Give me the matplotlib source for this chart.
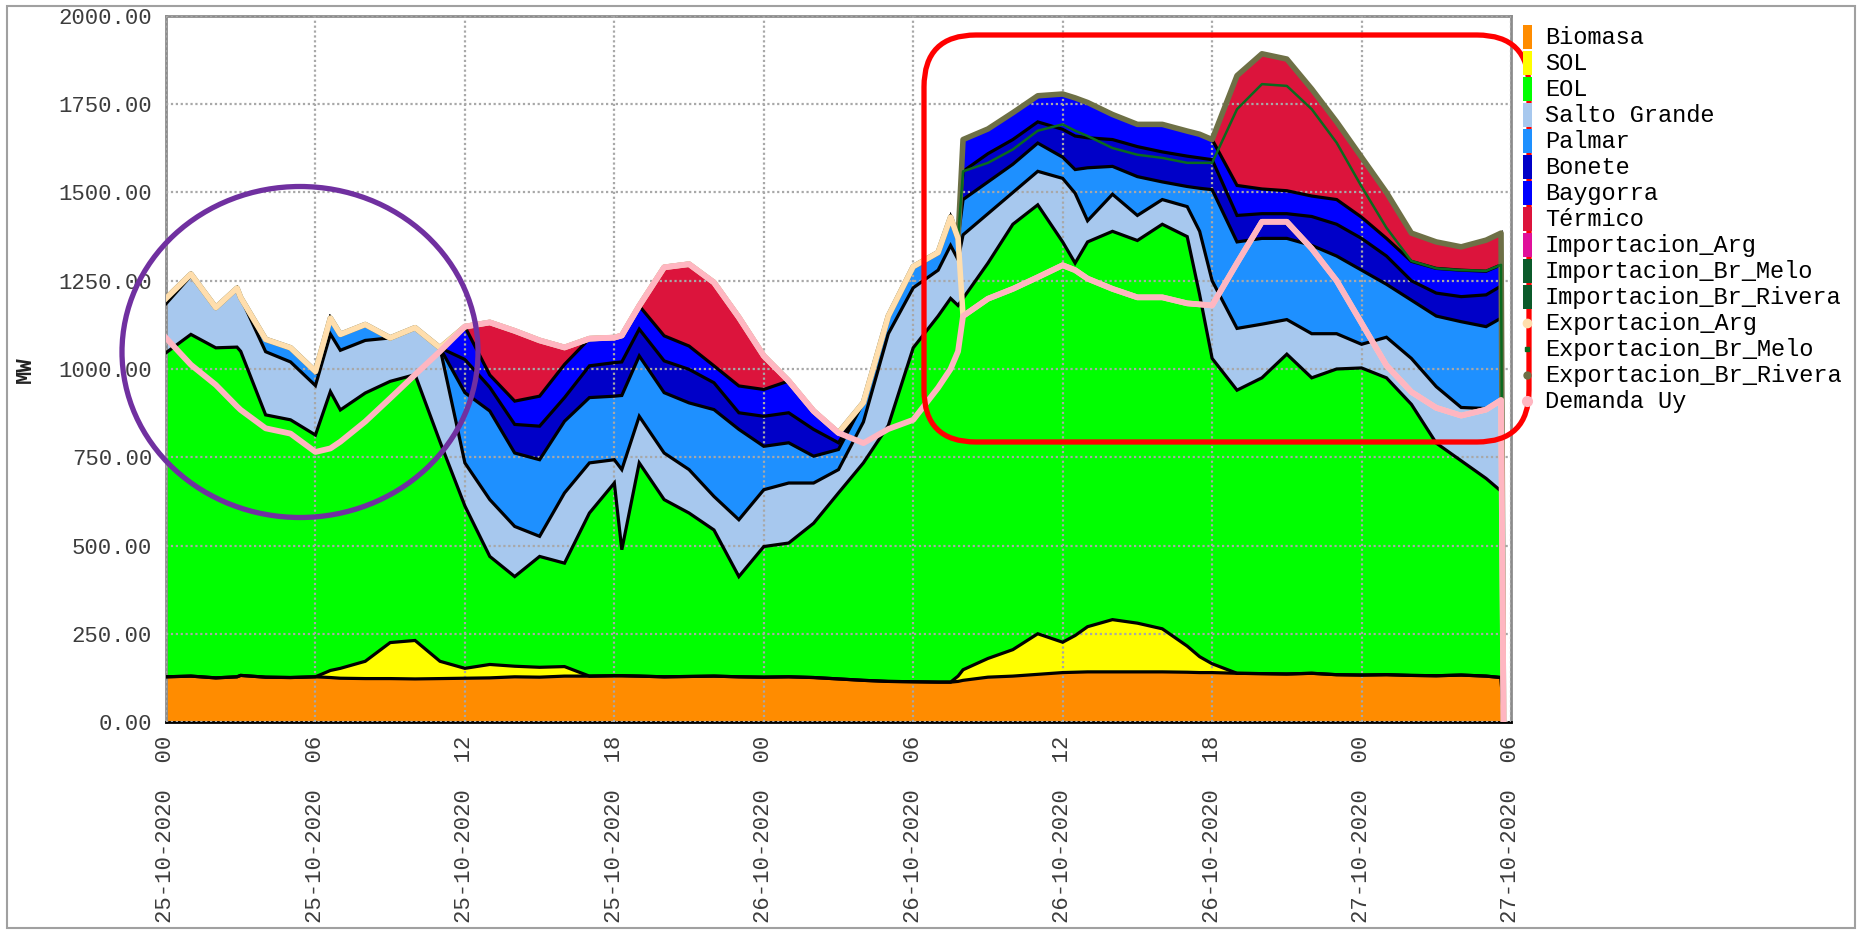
import matplotlib
matplotlib.use("Agg")
import matplotlib.pyplot as plt
from matplotlib.patches import Ellipse, FancyBboxPatch, Rectangle
from matplotlib.ticker import FormatStrFormatter
import numpy as np

plt.rcParams['font.family'] = ['Liberation Mono', 'DejaVu Sans Mono']

# horas desde 25-10-2020 00:00
hours = [0, 1, 2, 2.85, 3, 4, 5, 6, 6.6, 7, 8, 9, 10, 11,
         12, 13, 14, 15, 16, 17, 18, 18.3, 19, 20, 21, 22, 23, 24, 25, 26, 27,
         28, 29, 30, 31, 31.5, 31.8,
         32, 33, 34, 35, 36, 36.5, 37, 38, 39, 40, 41, 41.5,
         42, 43, 44, 45, 46, 47, 48, 49, 50, 51, 52, 53, 53.6, 53.7]

# generacion (MW)
biomasa = [128, 130, 125, 128, 132, 127, 126, 128, 126, 124, 123, 123, 122, 123,
           124, 125, 128, 127, 130, 130, 131, 131, 130, 128, 129, 130, 128, 127, 128, 126, 122,
           118, 115, 114, 113, 113, 115,
           118, 127, 130, 135, 140, 141, 142, 142, 142, 142, 141, 140,
           140, 138, 137, 136, 138, 134, 133, 134, 132, 131, 133, 130, 126, 0]
sol = [0, 0, 0, 0, 0, 0, 0, 0, 20, 28, 49, 102, 109, 49,
       28, 38, 30, 28, 27, 0, 0, 0, 0, 0, 0, 0, 0, 0, 0, 0, 0,
       0, 0, 0, 0, 0, 15,
       30, 53, 75, 115, 86, 104, 128, 148, 138, 122, 74, 45,
       25, 0, 0, 0, 0, 0, 0, 0, 0, 0, 0, 0, 0, 0]
eol = [918, 968, 935, 934, 918, 743, 730, 685, 790, 732, 760, 740, 753, 622,
       460, 306, 254, 314, 293, 462, 546, 357, 604, 502, 463, 414, 284, 370, 379, 437, 527,
       616, 725, 946, 1037, 1087, 1050,
       1052, 1120, 1205, 1215, 1134, 1055, 1090, 1100, 1084, 1146, 1160, 1025,
       865, 802, 838, 906, 837, 866, 870, 841, 768, 659, 607, 560, 528, 0]
salto_grande = [139, 166, 114, 167, 152, 179, 164, 140, 163, 169, 149, 123, 133, 266,
                122, 161, 142, 57, 199, 142, 66, 227, 132, 132, 123, 95, 161, 161, 170, 114, 66,
                116, 260, 170, 130, 150, 130,
                180, 140, 90, 95, 180, 198, 60, 105, 71, 70, 85, 180,
                220, 175, 152, 98, 125, 100, 67, 115, 130, 160, 151, 198, 258, 0]
palmar = [15, 5, 0, 0, 0, 35, 40, 40, 45, 45, 45, 0, 0, 0,
          199, 251, 208, 217, 203, 185, 180, 210, 171, 171, 189, 246, 256, 123, 114, 76, 57,
          55, 50, 60, 50, 80, 60,
          100, 90, 80, 80, 60, 67, 150, 79, 110, 50, 57, 122,
          258, 245, 243, 230, 250, 220, 210, 150, 165, 200, 243, 232, 232, 0]
bonete = [0, 0, 0, 0, 0, 0, 0, 0, 0, 0, 0, 0, 0, 0,
          94, 67, 81, 95, 67, 90, 95, 95, 76, 90, 95, 76, 47, 85, 85, 76, 19,
          0, 0, 0, 0, 0, 0,
          80, 80, 70, 60, 79, 95, 85, 76, 85, 85, 86, 86,
          85, 75, 70, 70, 82, 90, 90, 80, 55, 65, 71, 90, 91, 0]
baygorra = [0, 0, 0, 0, 0, 0, 0, 0, 0, 0, 0, 0, 0, 0,
            93, 35, 66, 85, 94, 77, 71, 75, 66, 71, 66, 48, 76, 76, 90, 52, 28,
            0, 0, 0, 0, 0, 0,
            90, 70, 76, 74, 100, 108, 100, 71, 63, 78, 71, 67,
            57, 85, 70, 65, 58, 70, 60, 50, 55, 70, 75, 67, 60, 0]
termico = [0, 0, 0, 0, 0, 0, 0, 0, 0, 0, 0, 0, 0, 0,
           0, 149, 199, 158, 48, 0, 0, 0, 0, 194, 232, 236, 194, 95, 0, 0, 0,
           0, 0, 0, 0, 0, 0,
           0, 0, 0, 0, 0, 0, 0, 0, 0, 0, 0, 0,
           0, 311, 383, 373, 303, 220, 170, 130, 80, 75, 66, 88, 90, 0]
importacion_arg = [0] * len(hours)
importacion_br_melo = [0] * len(hours)
importacion_br_rivera = [0] * len(hours)

# exportaciones y demanda (MW)
exportacion_arg = [112, 257, 219, 335, 318, 252, 243, 228, 369, 304, 275, 171, 133, 10,
                   0, 0, 0, 0, 0, 0, 0, 0, 0, 0, 0, 0, 0, 0, 0, 0, 0,
                   115, 320, 434, 383, 430, 320,
                   0, 0, 0, 0, 0, 0, 0, 0, 0, 0, 0, 0,
                   0, 0, 0, 0, 0, 0, 0, 0, 0, 0, 0, 0, 0, 0]
exportacion_br_melo = [0, 0, 0, 0, 0, 0, 0, 0, 0, 0, 0, 0, 0, 0,
                       0, 0, 0, 0, 0, 0, 0, 0, 0, 0, 0, 0, 0, 0, 0, 0, 0,
                       0, 0, 0, 0, 0, 0,
                       410, 385, 395, 415, 399, 395, 404, 399, 404, 395, 398, 401,
                       404, 436, 390, 385, 395, 391, 387, 390, 371, 395, 412, 393, 383, 0]
exportacion_br_rivera = [0, 0, 0, 0, 0, 0, 0, 0, 0, 0, 0, 0, 0, 0,
                         0, 0, 0, 0, 0, 0, 0, 0, 0, 0, 0, 0, 0, 0, 0, 0, 0,
                         0, 0, 0, 0, 0, 0,
                         90, 96, 104, 99, 86, 93, 95, 95, 86, 95, 90, 81,
                         66, 95, 86, 76, 57, 59, 83, 100, 79, 75, 66, 87, 90, 0]
demanda_uy = [1088, 1012, 955, 894, 884, 832, 817, 765, 775, 794, 851, 917, 984, 1050,
              1120, 1132, 1108, 1081, 1061, 1086, 1089, 1095, 1179, 1288, 1297, 1245, 1146, 1037, 966, 881, 819,
              790, 830, 856, 947, 1000, 1050,
              1150, 1199, 1227, 1260, 1294, 1280, 1256, 1227, 1203, 1203, 1186, 1183,
              1180, 1300, 1417, 1417, 1341, 1250, 1130, 1010, 935, 890, 868, 885, 912, 0]

tick_hours = [0, 6, 12, 18, 24, 30, 36, 42, 48, 54]
tick_labels = ["25-10-2020  00", "25-10-2020  06", "25-10-2020  12", "25-10-2020  18",
               "26-10-2020  00", "26-10-2020  06", "26-10-2020  12", "26-10-2020  18",
               "27-10-2020  00", "27-10-2020  06"]

area_names = ["Biomasa", "SOL", "EOL", "Salto Grande", "Palmar", "Bonete", "Baygorra",
              "Térmico", "Importacion_Arg", "Importacion_Br_Melo", "Importacion_Br_Rivera"]
area_colors = ["#FF8C00", "#FFFF00", "#00FF00", "#A7C8EE", "#1E90FF", "#0000C8", "#0000FF",
               "#DC143C", "#E0109A", "#0B5A2A", "#0B5A2A"]
line_names = ["Exportacion_Arg", "Exportacion_Br_Melo", "Exportacion_Br_Rivera", "Demanda Uy"]
line_colors = ["#FFDEAD", "#0A6A1E", "#6E7046", "#FFB6C1"]

W, H = 1858, 930
tick_size = 16
legend_size = 17
grey_text = "#3C3C3C"

fig = plt.figure(figsize=(W / 100, H / 100), dpi=100)
ax = fig.add_axes([166 / W, 1 - 722 / H, (1511 - 166) / W, (722 - 16) / H])

x = np.array(hours, dtype=float)
layers = [biomasa, sol, eol, salto_grande, palmar, bonete, baygorra, termico,
          importacion_arg, importacion_br_melo, importacion_br_rivera]

# areas apiladas
base = np.zeros(len(x))
for vals, col in zip(layers, area_colors):
    top = base + np.array(vals, dtype=float)
    ax.fill_between(x, base, top, color=col, lw=0, zorder=1)
    base = top

# contornos negros
base = np.zeros(len(x))
for vals in layers:
    base = base + np.array(vals, dtype=float)
    ax.plot(x, base, color="black", lw=2.3, zorder=3, solid_joinstyle="miter")

# exportaciones acumuladas sobre la demanda
dem = np.array(demanda_uy, dtype=float)
arg_line = dem + np.array(exportacion_arg)
melo_line = arg_line + np.array(exportacion_br_melo)
riv_line = melo_line + np.array(exportacion_br_rivera)
ax.plot(x, riv_line, color=line_colors[2], lw=4, zorder=4)
ax.plot(x, melo_line, color=line_colors[1], lw=1.8, zorder=4)
ax.plot(x, arg_line, color=line_colors[0], lw=4, zorder=4.5)
ax.plot(x, dem, color=line_colors[3], lw=4.2, zorder=5)

# ejes
ax.set_xlim(0, 54)
ax.set_ylim(0, 2000)
ax.set_yticks(np.arange(0, 2001, 250))
ax.yaxis.set_major_formatter(FormatStrFormatter("%.2f"))
ax.set_xticks(tick_hours)
ax.set_xticklabels(tick_labels, rotation=90)
ax.tick_params(axis="both", length=0, labelsize=tick_size, colors=grey_text)
ax.tick_params(axis="y", pad=10)
ax.tick_params(axis="x", pad=10)
ax.set_axisbelow(False)
ax.grid(True, color="#A8A8A8", linestyle=(0, (1, 1.2)), linewidth=1.6)
for side in ["left", "top", "right"]:
    ax.spines[side].set_color("#8C8C8C")
    ax.spines[side].set_linewidth(2)
ax.spines["bottom"].set_color("black")
ax.spines["bottom"].set_linewidth(2)

# capa de anotaciones en pixeles
ov = fig.add_axes([0, 0, 1, 1])
ov.set_xlim(0, W)
ov.set_ylim(H, 0)
ov.axis("off")
ov.patch.set_alpha(0)
ov.text(25.5, 370, "MW", rotation=90, ha="center", va="center",
        fontsize=16, fontweight="bold", color="#222222")
ov.add_patch(Rectangle((7, 6), 1848, 922, fill=False, ec="#A0A0A0", lw=1.5))
ov.add_patch(Ellipse((300, 352), 356, 331, fill=False, ec="#7030A0", lw=3.8))
ov.add_patch(FancyBboxPatch((924 + 52, 35 + 52), 605 - 104, 407 - 104,
                            boxstyle="round,pad=52", fill=False, ec="#FF0000", lw=3.8))

# leyenda
row0, step = 37, 26
for i, (name, col) in enumerate(zip(area_names, area_colors)):
    y = row0 + step * i
    ov.add_patch(Rectangle((1523, y - 12), 9, 24, color=col, lw=0))
    ov.text(1545, y, name, va="center", ha="left", fontsize=legend_size, color="black")
marker_style = [("o", 6, line_colors[0]), ("s", 3, line_colors[1]),
                ("o", 5, line_colors[2]), ("o", 7, line_colors[3])]
for j, (name, (mk, ms, col)) in enumerate(zip(line_names, marker_style)):
    y = row0 + step * (len(area_names) + j)
    ov.plot([1527], [y], marker=mk, ms=ms, color=col, mec=col)
    ov.text(1545, y, name, va="center", ha="left", fontsize=legend_size, color="black")

plt.savefig("out.png", dpi=100)
